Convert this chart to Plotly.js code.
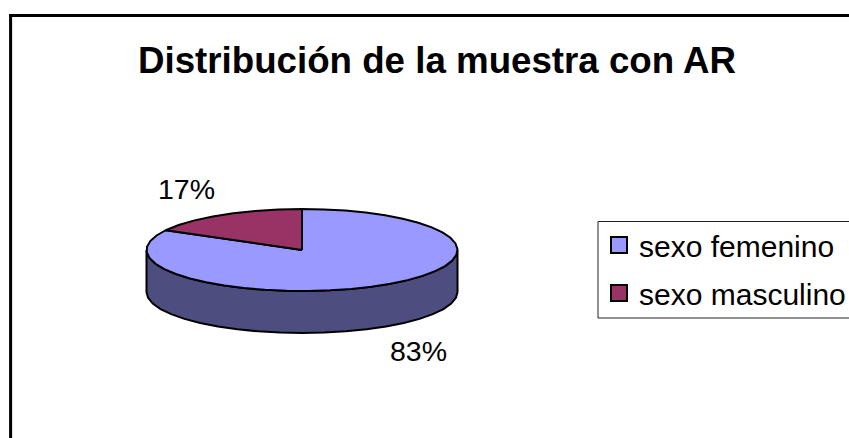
<!DOCTYPE html>
<html><head><meta charset="utf-8">
<script src="https://cdn.plot.ly/plotly-3.0.1.min.js"></script>
<style>html,body{margin:0;padding:0;background:#fff;overflow:hidden;width:849px;height:438px}#c{width:860px;height:438px}</style>
</head><body><div id="c"></div>
<script>
const categories = ["sexo femenino", "sexo masculino"];
const values = [83, 17];
const colors = ["#9999ff", "#993366"];
const sideColor = "#4d4d80";
const W = 860, H = 438;
const cx = 302, cy = 250, rx = 155.5, ry = 41, depth = 42;
const font = '"Liberation Sans", Arial, sans-serif';
const total = values.reduce((a, b) => a + b, 0);
const SEG = 44;
function pt(f, dy) {
  const a = f * 2 * Math.PI;
  return [cx + rx * Math.sin(a), cy - ry * Math.cos(a) + (dy || 0)];
}
function wedge(f0, f1) {
  const n = Math.max(2, Math.round((f1 - f0) * SEG));
  const xs = [cx], ys = [cy];
  for (let i = 0; i <= n; i++) {
    const p = pt(f0 + (f1 - f0) * i / n);
    xs.push(p[0]); ys.push(p[1]);
  }
  xs.push(cx); ys.push(cy);
  return {xs, ys};
}
function side() {
  const xs = [], ys = [], n = SEG / 2;
  for (let i = 0; i <= n; i++) { const p = pt(0.25 + 0.5 * i / n); xs.push(p[0]); ys.push(p[1]); }
  for (let i = n; i >= 0; i--) { const p = pt(0.25 + 0.5 * i / n, depth); xs.push(p[0]); ys.push(p[1]); }
  xs.push(xs[0]); ys.push(ys[0]);
  return {xs, ys};
}
const traces = [];
const s = side();
traces.push({x: s.xs, y: s.ys, mode: "lines", fill: "toself", fillcolor: sideColor,
  line: {color: "#000", width: 2}, showlegend: false, hoverinfo: "skip"});
let acc = 0;
values.forEach((v, i) => {
  const w = wedge(acc / total, (acc + v) / total);
  traces.push({x: w.xs, y: w.ys, mode: "lines", fill: "toself", fillcolor: colors[i],
    line: {color: "#000", width: 2}, showlegend: false, hoverinfo: "skip", name: categories[i]});
  acc += v;
});
categories.forEach((c, i) => {
  traces.push({x: [null], y: [null], mode: "markers", name: c, legendgroup: c, hoverinfo: "skip",
    marker: {symbol: "square", size: 16, color: colors[i], line: {color: "#000", width: 2}}});
});
const layout = {
  width: W, height: H, margin: {l: 0, r: 0, t: 0, b: 0, pad: 0},
  paper_bgcolor: "#fff", plot_bgcolor: "#fff",
  font: {family: font, color: "#000"},
  title: {text: "Distribución de la muestra con AR", font: {family: font, size: 36.7, color: "#000", weight: "bold"},
    x: 437 / W, xanchor: "center", xref: "paper", y: 1 - 60 / H, yanchor: "middle", yref: "container"},
  xaxis: {range: [0, W], visible: false, fixedrange: true},
  yaxis: {range: [H, 0], visible: false, fixedrange: true},
  showlegend: true,
  legend: {x: 599 / W, xanchor: "left", y: 1 - 219 / H, yanchor: "top", bgcolor: "rgba(0,0,0,0)",
    borderwidth: 0, font: {family: font, size: 30, color: "#000"},
    tracegroupgap: 6, itemwidth: 30, traceorder: "grouped"},
  shapes: [
    {type: "line", x0: 10.6, x1: 10.6, y0: 15, y1: H, line: {color: "#000", width: 3}},
    {type: "line", x0: 9, x1: W, y0: 15.4, y1: 15.4, line: {color: "#000", width: 3}},
    {type: "rect", x0: 598, x1: W + 5, y0: 221.5, y1: 318, line: {color: "#222", width: 1}}
  ],
  annotations: [
    {x: 186, y: 189, text: values[1] + "%", showarrow: false, font: {family: font, size: 28.5, color: "#000"}},
    {x: 418, y: 351, text: values[0] + "%", showarrow: false, font: {family: font, size: 28.5, color: "#000"}}
  ]
};
Plotly.newPlot("c", traces, layout, {displayModeBar: false, staticPlot: true});
</script></body></html>
